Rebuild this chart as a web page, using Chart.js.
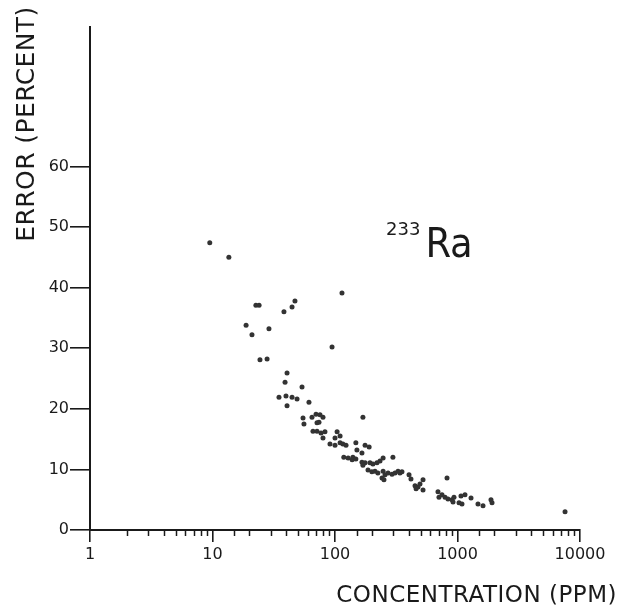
<!DOCTYPE html>
<html>
<head>
<meta charset="utf-8">
<script src="https://cdn.jsdelivr.net/npm/chart.js@4.4.1/dist/chart.umd.min.js"></script>
<style>
  html, body { margin: 0; padding: 0; background: #fff; }
  #wrap { width: 629px; height: 613px; }
</style>
</head>
<body>
<div id="wrap"><canvas id="chartErro" width="629" height="613"></canvas></div>
<script>
// valores (concentração em ppm, erro em %)
const concentracao = [
  9.5, 13.6, 22.6, 24.0, 38.3, 44.6, 47.1, 114, 18.8, 21.0,
  28.9, 94.6, 24.4, 27.9, 40.6, 39.1, 53.8, 34.9, 39.8, 44.6,
  49.0, 61.3, 40.6, 54.8, 55.8, 64.9, 70.0, 75.4, 79.8, 71.3,
  74.0, 169, 66.1, 71.3, 76.9, 82.8, 79.8, 104, 110, 100,
  91.0, 100, 110, 116, 123, 148, 176, 190, 151, 166,
  118, 128, 138, 140, 148, 166, 176, 169, 193, 204,
  220, 233, 247, 297, 186, 200, 212, 224, 247, 256,
  242, 251, 271, 292, 309, 327, 339, 352, 402, 417,
  523, 450, 476, 494, 523, 459, 821, 693, 706, 747,
  791, 836, 902, 936, 919, 1068, 1151, 1289, 1029, 1088,
  1470, 1615, 1877, 1913, 7550
];
const erroPct = [
  47.4, 45.0, 37.1, 37.1, 36.0, 36.8, 37.8, 39.1, 33.8, 32.2,
  33.2, 30.2, 28.1, 28.2, 25.9, 24.4, 23.6, 21.9, 22.1, 21.9,
  21.6, 21.1, 20.5, 18.5, 17.5, 18.6, 19.1, 19.0, 18.6, 17.7,
  17.8, 18.6, 16.3, 16.3, 16.0, 16.2, 15.2, 16.2, 15.5, 15.2,
  14.2, 14.0, 14.4, 14.2, 14.0, 14.4, 14.0, 13.7, 13.2, 12.7,
  12.0, 11.9, 11.6, 12.0, 11.7, 11.2, 11.1, 10.7, 11.1, 10.9,
  11.1, 11.4, 11.9, 12.0, 9.9, 9.6, 9.7, 9.4, 9.7, 9.1,
  8.6, 8.3, 9.4, 9.2, 9.4, 9.7, 9.4, 9.6, 9.1, 8.4,
  8.3, 7.3, 7.1, 7.6, 6.6, 6.8, 8.6, 6.3, 5.4, 5.8,
  5.4, 5.1, 5.0, 5.4, 4.6, 5.6, 5.8, 5.3, 4.5, 4.3,
  4.3, 4.0, 5.0, 4.5, 3.0
];
const rotuloX = 'CONCENTRATION (PPM)';
const rotuloY = 'ERROR (PERCENT)';
const isotopo = { massa: '233', simbolo: 'Ra', x: 261, y: 45.0 };
const yTicksVisiveis = [0, 10, 20, 30, 40, 50, 60];

const FONTE = '"DejaVu Sans", sans-serif';
const FONTE_COND = '"DejaVu Sans Condensed", "DejaVu Sans", sans-serif';
const TINTA = '#1a1a1a';

function ehPotencia10(v) {
  const l = Math.log10(v);
  return Math.abs(l - Math.round(l)) < 1e-9;
}

// marcas menores do eixo x + títulos + rótulo do isótopo
const decoracao = {
  id: 'decoracao',
  afterDraw(chart) {
    const { ctx, scales: { x, y } } = chart;
    ctx.save();
    ctx.strokeStyle = TINTA;
    ctx.lineWidth = 1.5;
    x.ticks.forEach(t => {
      if (ehPotencia10(t.value)) return;
      const px = Math.round(x.getPixelForValue(t.value)) + 0.5;
      ctx.beginPath();
      ctx.moveTo(px, y.bottom);
      ctx.lineTo(px, y.bottom + 6);
      ctx.stroke();
    });

    ctx.fillStyle = TINTA;
    ctx.textBaseline = 'middle';

    ctx.font = '23px ' + FONTE;
    ctx.letterSpacing = '0.5px';
    ctx.textAlign = 'right';
    ctx.fillText(rotuloX, 617, 596);

    ctx.save();
    ctx.translate(27, 124);
    ctx.rotate(-Math.PI / 2);
    ctx.textAlign = 'center';
    ctx.font = '25px ' + FONTE;
    ctx.letterSpacing = '0.4px';
    ctx.fillText(rotuloY, 0, 0);
    ctx.restore();
    ctx.letterSpacing = '0px';

    const ax = x.getPixelForValue(isotopo.x);
    const ay = y.getPixelForValue(isotopo.y);
    ctx.textAlign = 'left';
    ctx.textBaseline = 'alphabetic';
    ctx.font = '18px ' + FONTE;
    ctx.fillText(isotopo.massa, ax, ay - 22);
    const w = ctx.measureText(isotopo.massa).width;
    ctx.font = '41px ' + FONTE_COND;
    ctx.fillText(isotopo.simbolo, ax + w + 5, ay);
    ctx.restore();
  }
};

const pontos = concentracao.map((c, i) => ({ x: c, y: erroPct[i] }));

new Chart(document.getElementById('chartErro'), {
  type: 'scatter',
  data: {
    datasets: [{
      data: pontos,
      backgroundColor: '#333333',
      borderWidth: 0,
      pointRadius: 2.5,
      pointHoverRadius: 2.5
    }]
  },
  options: {
    responsive: false,
    devicePixelRatio: 1,
    animation: false,
    events: [],
    layout: { padding: { left: 0, top: 27, right: 49, bottom: 0 } },
    plugins: { legend: { display: false }, tooltip: { enabled: false } },
    scales: {
      x: {
        type: 'logarithmic',
        min: 1,
        max: 10000,
        afterFit: s => { s.height = 83; },
        border: { display: true, color: TINTA, width: 2 },
        grid: {
          drawOnChartArea: false,
          drawTicks: true,
          tickLength: 12,
          lineWidth: 1.6,
          color: c => (c.tick && ehPotencia10(c.tick.value)) ? TINTA : 'rgba(0,0,0,0)'
        },
        ticks: {
          autoSkip: false,
          maxRotation: 0,
          padding: 3,
          color: TINTA,
          font: { family: FONTE, size: 16 },
          callback: v => ehPotencia10(v) ? String(Math.round(v)) : ''
        }
      },
      y: {
        type: 'linear',
        min: 0,
        max: 83,
        afterFit: s => { s.width = 90; },
        border: { display: true, color: TINTA, width: 2 },
        grid: {
          drawOnChartArea: false,
          drawTicks: true,
          tickLength: 20,
          lineWidth: 1.6,
          color: c => (c.tick && yTicksVisiveis.includes(c.tick.value)) ? TINTA : 'rgba(0,0,0,0)'
        },
        ticks: {
          stepSize: 10,
          padding: 1,
          color: TINTA,
          font: { family: FONTE, size: 16 },
          callback: v => yTicksVisiveis.includes(v) ? String(v) : ''
        }
      }
    }
  },
  plugins: [decoracao]
});
</script>
</body>
</html>
